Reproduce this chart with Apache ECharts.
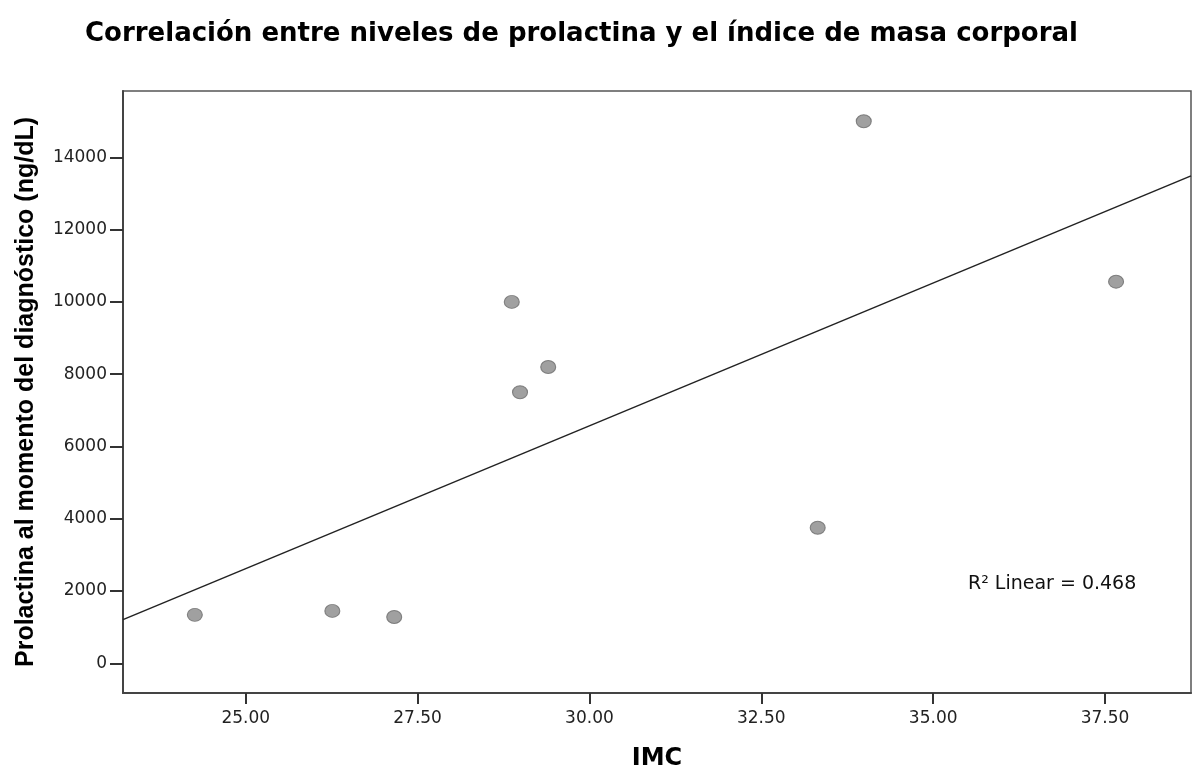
<!DOCTYPE html>
<html>
<head>
<meta charset="utf-8">
<script src="https://cdn.jsdelivr.net/npm/echarts@6/dist/echarts.min.js"></script>
<style>
html,body{margin:0;padding:0;background:#fff;}
#chart{width:1194px;height:773px;}
</style>
</head>
<body>
<div id="chart"></div>
<script>
// Data
const imc = [24.26, 26.26, 27.16, 28.87, 28.99, 29.40, 33.32, 33.99, 37.66];
const prolactina = [1340, 1450, 1280, 10000, 7500, 8200, 3750, 15000, 10560];
const xTicks = [25, 27.5, 30, 32.5, 35, 37.5];
const yTicks = [0, 2000, 4000, 6000, 8000, 10000, 12000, 14000];
const xRange = [23.215, 38.75];
const yRange = [-822, 15836];
const titleText = 'Correlación entre niveles de prolactina y el índice de masa corporal';
const xName = 'IMC';
const yName = 'Prolactina al momento del diagnóstico (ng/dL)';
const r2Text = 'R² Linear = 0.468';

// least-squares fit from the data
const n = imc.length;
const mx = imc.reduce((a, b) => a + b, 0) / n;
const my = prolactina.reduce((a, b) => a + b, 0) / n;
let sxy = 0, sxx = 0;
for (let i = 0; i < n; i++) { sxy += (imc[i] - mx) * (prolactina[i] - my); sxx += (imc[i] - mx) ** 2; }
const slope = sxy / sxx;
const intercept = my - slope * mx;
const fitLine = xRange.map(x => [x, intercept + slope * x]);

const chart = echarts.init(document.getElementById('chart'));
chart.setOption({
  animation: false,
  backgroundColor: '#fff',
  title: {
    text: titleText,
    left: 80,
    top: 16,
    textStyle: { fontFamily: 'DejaVu Sans', fontWeight: 'bold', fontSize: 26, color: '#000' }
  },
  grid: {
    left: 123, right: 3, top: 91, bottom: 80,
    outerBoundsMode: 'none', containLabel: false,
    show: true, borderColor: '#555', borderWidth: 1.5, backgroundColor: '#fff'
  },
  xAxis: {
    type: 'value',
    min: xRange[0], max: xRange[1],
    name: xName, nameLocation: 'middle', nameGap: 54,
    nameTextStyle: { fontFamily: 'DejaVu Sans', fontWeight: 'bold', fontSize: 24, color: '#000' },
    splitLine: { show: false },
    axisLine: { show: true, onZero: false, lineStyle: { color: '#444', width: 2 } },
    axisTick: { show: true, length: 11, lineStyle: { color: '#333', width: 2 }, customValues: xTicks },
    axisLabel: {
      fontFamily: 'DejaVu Sans', fontSize: 17, color: '#222', margin: 17,
      customValues: xTicks,
      formatter: v => v.toFixed(2)
    }
  },
  yAxis: {
    type: 'value',
    min: yRange[0], max: yRange[1],
    name: yName, nameLocation: 'middle', nameGap: 84, nameRotate: 90,
    nameTextStyle: { fontFamily: 'Liberation Sans', fontWeight: 'bold', fontSize: 25, color: '#000' },
    splitLine: { show: false },
    axisLine: { show: true, onZero: false, lineStyle: { color: '#444', width: 2 } },
    axisTick: { show: true, length: 13, lineStyle: { color: '#333', width: 2 }, customValues: yTicks },
    axisLabel: {
      fontFamily: 'DejaVu Sans', fontSize: 17, color: '#222', margin: 16,
      customValues: yTicks,
      formatter: v => String(v)
    }
  },
  graphic: [{
    type: 'text',
    left: 968,
    top: 575,
    style: { text: r2Text, font: '19px "DejaVu Sans"', fill: '#111' }
  }],
  series: [
    {
      type: 'line',
      data: fitLine,
      showSymbol: false,
      symbol: 'none',
      lineStyle: { color: '#222', width: 1.5 },
      z: 2
    },
    {
      type: 'scatter',
      data: imc.map((x, i) => [x, prolactina[i]]),
      symbol: 'circle',
      symbolSize: [15, 13],
      itemStyle: { color: '#888', borderColor: '#6a6a6a', borderWidth: 1 },
      z: 3
    }
  ]
});
</script>
</body>
</html>
